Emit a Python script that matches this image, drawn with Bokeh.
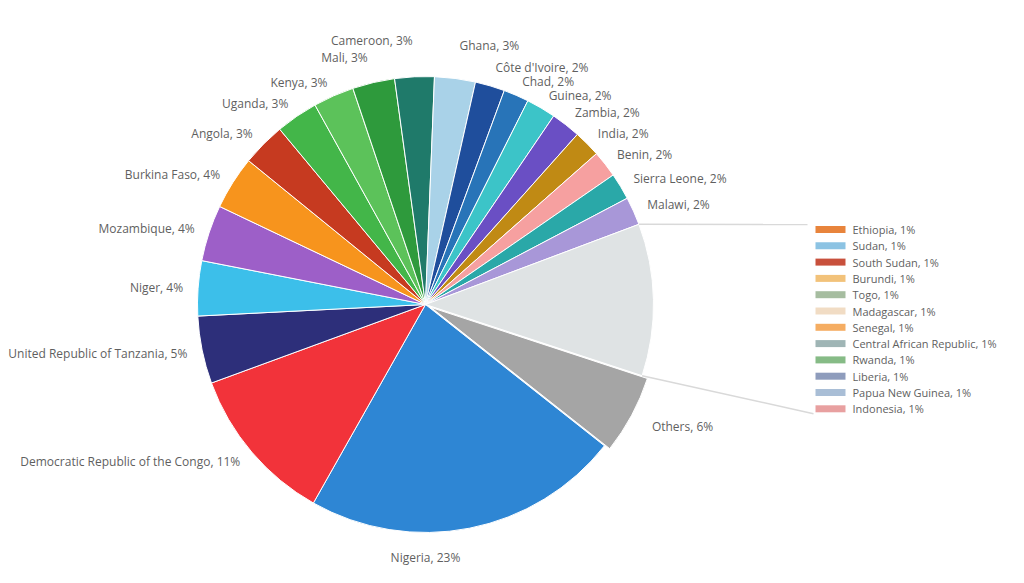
import math
from bokeh.plotting import figure
from bokeh.models import Range1d, ColumnDataSource
from bokeh.embed import file_html
from bokeh.resources import INLINE
from bokeh.core.properties import value

# ---- data ----
countries = ["Nigeria", "Democratic Republic of the Congo", "United Republic of Tanzania",
             "Niger", "Mozambique", "Burkina Faso", "Angola", "Uganda", "Kenya", "Mali",
             "Cameroon", "Ghana", "Côte d'Ivoire", "Chad", "Guinea", "Zambia", "India",
             "Benin", "Sierra Leone", "Malawi"]
shares = [22.6, 11.25, 4.8, 3.9, 4.0, 3.8, 3.1, 3.0, 2.9, 3.0,
          2.8, 2.9, 2.1, 1.8, 2.1, 2.1, 1.9, 1.9, 1.9, 2.0]
colors = ["#2e86d4", "#f2333a", "#2d2f7a", "#3cbfea", "#9d5fc8", "#f7941d", "#c63a20",
          "#43b649", "#5cc25a", "#2e9a3c", "#1f7a6a", "#a9d2e8", "#1f4e9c", "#2874b8",
          "#3cc4c8", "#6a4fc4", "#c08a14", "#f6a0a0", "#2aa8a8", "#a897d8"]

group_names = ["Ethiopia", "Sudan", "South Sudan", "Burundi", "Togo", "Madagascar",
               "Senegal", "Central African Republic", "Rwanda", "Liberia",
               "Papua New Guinea", "Indonesia"]
group_shares = [1.0, 0.95, 0.95, 0.9, 0.9, 0.9, 0.9, 0.9, 0.85, 0.85, 0.85, 0.85]
group_colors = ["#e8843c", "#8cc3e3", "#c8503c", "#f2c27a", "#a6bda0", "#f1dcc4",
                "#f5ad62", "#9fb5b5", "#86bb86", "#8e9cbc", "#a9bed6", "#e8a0a0"]
group_color = "#dfe3e4"

others_share = 5.6
others_color = "#a5a5a5"

# ---- geometry ----
cx, cy, R = 425.0, -304.0, 228.0
a0 = math.radians(-38.3)
vals = shares + [sum(group_shares), others_share]
cols = colors + [group_color, others_color]
tot = sum(vals)

starts, ends, mids = [], [], []
cum = 0.0
for v in vals:
    s = a0 - (cum + v) / tot * 2 * math.pi
    e = a0 - cum / tot * 2 * math.pi
    starts.append(s); ends.append(e); mids.append((s + e) / 2)
    cum += v

xs, ys = [], []
for i, m in enumerate(mids):
    off = 6.0 if i == len(vals) - 1 else 0.0
    xs.append(cx + off * math.cos(m)); ys.append(cy + off * math.sin(m))

FONT = "Open Sans"
TXT = "#5f5f5f"

p = figure(width=1008, height=567, x_range=Range1d(0, 1008), y_range=Range1d(-567, 0),
           output_backend="svg", toolbar_location=None, min_border=0,
           x_axis_type=None, y_axis_type=None)
p.grid.visible = False
p.outline_line_color = None
p.background_fill_color = "white"

src = ColumnDataSource(dict(x=xs, y=ys, s=starts, e=ends, c=cols))
p.wedge(x="x", y="y", radius=R, start_angle="s", end_angle="e", fill_color="c",
        line_color="white", line_width=1, source=src)

# ---- data labels ----
lab_names = countries + ["Others"]
lab_vals = shares + [others_share]
lab_idx = list(range(len(countries))) + [len(vals) - 1]
lx, ly, lt, la = [], [], [], []
for name, v, i in zip(lab_names, lab_vals, lab_idx):
    m = mids[i]
    sn, cs = math.sin(m), math.cos(m)
    r = 243 + 22 * max(0.0, sn - 0.95) / 0.05
    if i == len(vals) - 1:
        r += 14
    txt = f"{name}, {int(v + 0.5)}%"
    if sn < -0.95:
        lx.append(cx); ly.append(cy - (R + 25)); la.append("center")
    else:
        lx.append(cx + r * cs); ly.append(cy + r * sn)
        la.append("left" if cs > 0 else "right")
    lt.append(txt)
p.text(x=lx, y=ly, text=lt, text_align=la, text_baseline="middle",
       text_font=value(FONT), text_font_size="12px", text_color=TXT)

# ---- legend of the grouped slice ----
leg_x0, leg_y0, leg_dy = 815, 229, 16.3
gy = [-(leg_y0 + k * leg_dy) for k in range(len(group_names))]
p.rect(x=[leg_x0 + 15] * len(group_names), y=gy, width=30, height=7,
       fill_color=group_colors, line_color=None)
p.text(x=[leg_x0 + 37] * len(group_names), y=gy,
       text=[f"{n}, {int(v + 0.5)}%" for n, v in zip(group_names, group_shares)],
       text_baseline="middle", text_font=value(FONT), text_font_size="11px",
       text_color=TXT)

# ---- connector lines from grouped slice to legend ----
gi = len(vals) - 2
top_a, bot_a = ends[gi], starts[gi]
p.line(x=[cx + R * math.cos(top_a), leg_x0 - 8], y=[cy + R * math.sin(top_a), gy[0] + 5],
       line_color="#d9d9d9", line_width=1.5)
p.line(x=[cx + R * math.cos(bot_a), leg_x0 - 2], y=[cy + R * math.sin(bot_a), gy[-1] - 5],
       line_color="#d9d9d9", line_width=1.5)

open("out.html", "w").write(file_html(p, INLINE))
